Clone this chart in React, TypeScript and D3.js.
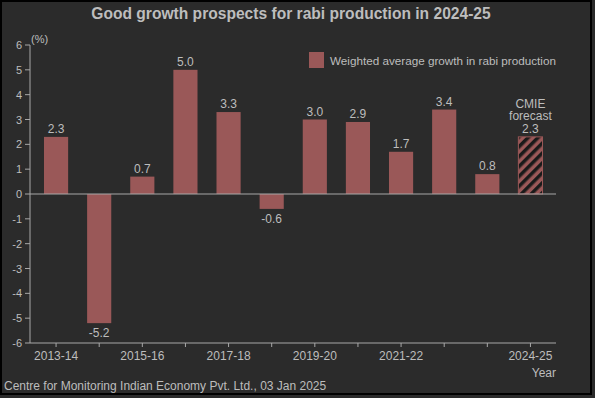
import React from "react";
import * as d3 from "d3";

const years = ["2013-14", "2014-15", "2015-16", "2016-17", "2017-18", "2018-19", "2019-20", "2020-21", "2021-22", "2022-23", "2023-24", "2024-25"];
const growth = [2.3, -5.2, 0.7, 5.0, 3.3, -0.6, 3.0, 2.9, 1.7, 3.4, 0.8, 2.3];
const labelledYears = ["2013-14", "2015-16", "2017-18", "2019-20", "2021-22", "2024-25"];
const yTicks = [6, 5, 4, 3, 2, 1, 0, -1, -2, -3, -4, -5, -6];
const forecastYear = "2024-25";

const W = 595;
const H = 398;
const bg = "#2b2b2b";
const barColor = "#9a5858";
const textColor = "#bdbdbd";
const axisColor = "#a8a8a8";
const font = "'Liberation Sans', Arial, sans-serif";

export default function App() {
  const x = d3.scaleBand().domain(years).range([34.5, 552]).paddingInner(0.44).paddingOuter(0.22);
  const y = d3.scaleLinear().domain([-6, 6]).range([343, 45]);
  const axisLeft = 30;
  const axisRight = 556;

  return (
    <svg width={W} height={H} style={{ position: "absolute", left: 0, top: 0 }} fontFamily={font}>
      <defs>
        <pattern id="hatch" patternUnits="userSpaceOnUse" width="7" height="7" patternTransform="rotate(45)">
          <rect width="7" height="7" fill={barColor} />
          <rect width="3.5" height="7" fill="#1a1a1a" />
        </pattern>
      </defs>
      <rect x={0} y={0} width={W} height={H} fill={bg} />
      <rect x={1} y={1} width={590} height={393} fill="none" stroke="#000" strokeWidth={2} />

      <text x={291} y={19} textAnchor="middle" fontSize={15.6} fontWeight="bold" fill={textColor}>
        Good growth prospects for rabi production in 2024-25
      </text>

      {/* y axis */}
      <line x1={axisLeft} x2={axisLeft} y1={y(6)} y2={y(-6)} stroke={axisColor} />
      {yTicks.map((t) => (
        <g key={t}>
          <line x1={axisLeft - 5} x2={axisLeft} y1={y(t)} y2={y(t)} stroke={axisColor} />
          <text x={axisLeft - 8} y={y(t) + 4} textAnchor="end" fontSize={11} fill={textColor}>
            {t}
          </text>
        </g>
      ))}
      <text x={axisLeft + 1} y={43} fontSize={11} fill={textColor}>(%)</text>

      {/* bars */}
      {years.map((yr, i) => {
        const v = growth[i];
        const top = y(Math.max(0, v));
        const h = Math.abs(y(v) - y(0));
        const cx = (x(yr) as number) + x.bandwidth() / 2;
        const forecast = yr === forecastYear;
        return (
          <g key={yr}>
            <rect
              x={x(yr)}
              y={top}
              width={x.bandwidth()}
              height={h}
              fill={forecast ? "url(#hatch)" : barColor}
              stroke={forecast ? barColor : "none"}
            />
            <text
              x={cx}
              y={v >= 0 ? y(v) - 4 : y(v) + 14}
              textAnchor="middle"
              fontSize={12}
              fill={textColor}
            >
              {v.toFixed(1)}
            </text>
            {forecast && (
              <text x={cx} y={y(v) - 4} textAnchor="middle" fontSize={12} fill={textColor}>
                <tspan x={cx} dy={-25}>CMIE</tspan>
                <tspan x={cx} dy={12.5}>forecast</tspan>
              </text>
            )}
          </g>
        );
      })}

      {/* zero line */}
      <line x1={axisLeft} x2={axisRight} y1={y(0)} y2={y(0)} stroke={axisColor} />

      {/* x axis */}
      <line x1={axisLeft} x2={axisRight} y1={y(-6)} y2={y(-6)} stroke={axisColor} />
      {years.map((yr) => {
        const cx = (x(yr) as number) + x.bandwidth() / 2;
        return (
          <g key={yr}>
            <line x1={cx} x2={cx} y1={y(-6)} y2={y(-6) + 4} stroke={axisColor} />
            {labelledYears.includes(yr) && (
              <text x={cx} y={y(-6) + 17} textAnchor="middle" fontSize={12} fill={textColor}>
                {yr}
              </text>
            )}
          </g>
        );
      })}
      <text x={axisRight} y={377} textAnchor="end" fontSize={12} fill={textColor}>Year</text>

      {/* legend */}
      <rect x={309} y={52} width={15} height={16} fill={barColor} />
      <text x={330} y={65} fontSize={11.7} fill={textColor}>Weighted average growth in rabi production</text>

      <text x={4} y={390} fontSize={12} fill={textColor}>
        Centre for Monitoring Indian Economy Pvt. Ltd., 03 Jan 2025
      </text>
    </svg>
  );
}
